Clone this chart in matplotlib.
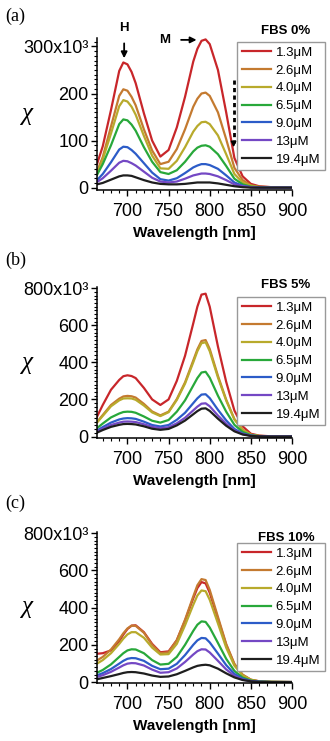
import matplotlib
matplotlib.use("Agg")
import matplotlib.pyplot as plt
from matplotlib.ticker import MultipleLocator

plt.rcParams["font.family"] = ["Liberation Sans", "DejaVu Sans"]

# wavelength grid (nm), values in units of 10^3
wavelength = [663, 670, 680, 690, 695, 700, 705, 710, 720, 730, 740, 750, 760,
              770, 780, 785, 790, 795, 800, 810, 820, 830, 840, 850, 860, 875, 900]

conc_labels = ["1.3\u03bcM", "2.6\u03bcM", "4.0\u03bcM", "6.5\u03bcM",
               "9.0\u03bcM", "13\u03bcM", "19.4\u03bcM"]
colors = ["#c8262a", "#c47a30", "#b8aa2c", "#28a83a", "#2c5cc8", "#7448c4", "#1e1e1e"]

# FBS 0%
fbs0_1p3 = [50, 88, 165, 248, 266, 262, 246, 222, 158, 100, 66, 80, 128,
            193, 268, 295, 312, 315, 305, 250, 160, 63, 24, 8, 3, 1, 0]
fbs0_2p6 = [34, 65, 130, 195, 209, 206, 193, 175, 124, 79, 50, 55, 82,
            124, 172, 189, 200, 202, 195, 160, 103, 42, 16, 5, 2, 1, 0]
fbs0_4p0 = [30, 60, 115, 173, 186, 183, 172, 155, 110, 68, 41, 40, 57,
            86, 119, 131, 139, 140, 135, 111, 71, 29, 11, 4, 1, 0, 0]
fbs0_6p5 = [27, 50, 90, 135, 145, 143, 134, 121, 86, 55, 33, 29, 37,
            55, 77, 85, 89, 90, 87, 71, 46, 19, 7, 2, 1, 0, 0]
fbs0_9p0 = [16, 29, 54, 81, 87, 86, 80, 72, 52, 32, 18, 15, 20,
            31, 43, 47, 50, 50, 48, 40, 26, 11, 4, 1, 0, 0, 0]
fbs0_13 = [12, 20, 36, 53, 57, 56, 52, 47, 34, 21, 13, 11, 13,
           19, 26, 28, 30, 30, 29, 24, 16, 7, 3, 1, 0, 0, 0]
fbs0_19p4 = [7, 10, 17, 24, 26, 26, 25, 22, 16, 11, 8, 7, 7,
             8, 10, 11, 11, 11, 11, 9, 6, 3, 1, 0, 0, 0, 0]

# FBS 5%
fbs5_1p3 = [107, 170, 252, 305, 325, 330, 326, 315, 262, 200, 170, 200, 300,
            435, 610, 700, 765, 770, 700, 485, 295, 140, 55, 15, 5, 1, 0]
fbs5_2p6 = [78, 116, 170, 204, 216, 219, 217, 210, 176, 135, 114, 134, 202,
            292, 410, 470, 515, 520, 472, 327, 199, 94, 37, 10, 3, 1, 0]
fbs5_4p0 = [75, 111, 163, 195, 205, 206, 205, 198, 167, 130, 110, 131, 197,
            285, 400, 460, 503, 508, 460, 318, 194, 92, 36, 10, 3, 1, 0]
fbs5_6p5 = [45, 70, 103, 124, 132, 134, 133, 128, 108, 85, 75, 89, 134,
            195, 275, 315, 345, 349, 317, 220, 134, 63, 25, 7, 2, 0, 0]
fbs5_9p0 = [32, 51, 75, 92, 97, 99, 98, 95, 80, 62, 54, 62, 90,
            128, 180, 206, 226, 228, 207, 144, 87, 41, 16, 5, 1, 0, 0]
fbs5_13 = [27, 42, 62, 75, 80, 81, 80, 78, 66, 52, 45, 50, 71,
           101, 141, 161, 177, 179, 163, 113, 69, 33, 13, 4, 1, 0, 0]
fbs5_19p4 = [21, 35, 52, 63, 67, 68, 67, 65, 55, 42, 36, 41, 60,
             86, 120, 137, 150, 152, 138, 96, 58, 28, 11, 3, 1, 0, 0]

# FBS 10%
fbs10_1p3 = [152, 155, 170, 220, 255, 285, 303, 305, 268, 205, 160, 165, 225,
             330, 450, 505, 537, 530, 480, 340, 200, 95, 38, 12, 4, 1, 0]
fbs10_2p6 = [116, 135, 175, 230, 262, 288, 303, 302, 265, 200, 155, 160, 225,
             335, 460, 520, 553, 548, 495, 350, 205, 98, 40, 13, 4, 1, 0]
fbs10_4p0 = [99, 118, 155, 205, 233, 256, 268, 268, 238, 185, 148, 150, 205,
             305, 415, 465, 492, 488, 442, 315, 185, 88, 36, 12, 4, 1, 0]
fbs10_6p5 = [50, 65, 95, 135, 155, 170, 176, 175, 155, 118, 94, 98, 135,
             200, 275, 308, 326, 323, 293, 210, 125, 60, 24, 8, 3, 1, 0]
fbs10_9p0 = [36, 48, 70, 99, 114, 125, 129, 128, 114, 87, 69, 72, 98,
             145, 200, 224, 237, 235, 213, 153, 91, 44, 18, 6, 2, 0, 0]
fbs10_13 = [27, 37, 55, 78, 90, 99, 102, 101, 89, 67, 50, 53, 73,
            108, 148, 166, 176, 175, 159, 114, 68, 33, 13, 4, 1, 0, 0]
fbs10_19p4 = [15, 22, 32, 43, 49, 53, 54, 53, 46, 35, 28, 30, 42,
              60, 79, 87, 91, 93, 90, 72, 47, 25, 11, 4, 1, 0, 0]

panels = [
    ("(a)", "FBS 0%", [fbs0_1p3, fbs0_2p6, fbs0_4p0, fbs0_6p5, fbs0_9p0, fbs0_13, fbs0_19p4],
     [0, 100, 200, 300], (-5, 318), 10),
    ("(b)", "FBS 5%", [fbs5_1p3, fbs5_2p6, fbs5_4p0, fbs5_6p5, fbs5_9p0, fbs5_13, fbs5_19p4],
     [0, 200, 400, 600, 800], (-8, 806), 20),
    ("(c)", "FBS 10%", [fbs10_1p3, fbs10_2p6, fbs10_4p0, fbs10_6p5, fbs10_9p0, fbs10_13, fbs10_19p4],
     [0, 200, 400, 600, 800], (-5, 806), 20),
]

W, H = 330, 741
fig = plt.figure(figsize=(W / 100, H / 100), dpi=100)

# pixel boxes: top, bottom of each axes
boxes = [(38, 190), (287, 438), (532, 683)]
ax_left, ax_right = 97, 292
legend_tops = [42, 297, 543]
title_y = [31, 285, 538]
label_y = [16, 260, 503]

for (tag, fbs, series, yt, ylim, minor), (top, bot), lt, ty, ly in zip(
        panels, boxes, legend_tops, title_y, label_y):
    ax = fig.add_axes([ax_left / W, 1 - bot / H, (ax_right - ax_left) / W, (bot - top) / H])
    for vals, c, lab in zip(series, colors, conc_labels):
        ax.plot(wavelength, [v * 1000 for v in vals], color=c, lw=1.6, label=lab)

    ax.set_xlim(663, 900)
    ax.set_ylim(ylim[0] * 1000, ylim[1] * 1000)
    ax.set_xticks([700, 750, 800, 850, 900])
    ax.xaxis.set_minor_locator(MultipleLocator(10))
    ylabels = [str(v) for v in yt]
    ylabels[-1] = f"{yt[-1]}x10\u00b3"
    ax.set_yticks([v * 1000 for v in yt], ylabels)
    ax.yaxis.set_minor_locator(MultipleLocator(minor * 1000))
    ax.tick_params(which="major", direction="out", length=4, width=1, labelsize=13, pad=2)
    ax.tick_params(axis="x", which="major", pad=5.5)
    ax.tick_params(which="minor", direction="out", length=2, width=0.8)
    for s in ("top", "right"):
        ax.spines[s].set_visible(False)
    for s in ("left", "bottom"):
        ax.spines[s].set_linewidth(1.1)

    ax.set_xlabel("Wavelength [nm]", fontsize=11, fontweight="bold", labelpad=4.5)
    fig.text(28 / W, 1 - (top + bot) / 2 / H, "\u03c7", fontsize=18, style="italic",
             family=["Liberation Serif", "DejaVu Serif"], ha="center", va="center")
    fig.text(5 / W, 1 - ly / H, tag, fontsize=13, family=["Liberation Serif", "DejaVu Serif"],
             ha="left", va="center")
    fig.text(286 / W, 1 - ty / H, fbs, fontsize=9.5, fontweight="bold", ha="center", va="center")

    ax.legend(loc="upper right", bbox_to_anchor=(325 / W, 1 - lt / H),
              bbox_transform=fig.transFigure, borderaxespad=0, fontsize=9.5,
              frameon=True, fancybox=False, edgecolor="#999999", framealpha=1,
              handlelength=2.2, handletextpad=0.35, labelspacing=0.42,
              borderpad=0.35)

    if tag == "(a)":
        ax.annotate("H", xy=(696, 275000), xytext=(696, 340000), ha="center", va="center",
                    fontsize=9.5, fontweight="bold", annotation_clip=False,
                    arrowprops=dict(arrowstyle="-|>", color="k", lw=1.3, mutation_scale=9,
                                    shrinkA=5, shrinkB=0))
        ax.annotate("M", xy=(784, 314000), xytext=(745, 314000), ha="center", va="center",
                    fontsize=9.5, fontweight="bold", annotation_clip=False,
                    arrowprops=dict(arrowstyle="-|>", color="k", lw=1.3, mutation_scale=9,
                                    shrinkA=6, shrinkB=0))
        ax.plot([829, 829], [228000, 95000], color="k", lw=2, ls=(0, (1.5, 1.2)),
                clip_on=False, zorder=5)
        ax.annotate("", xy=(829, 86000), xytext=(829, 96000), annotation_clip=False,
                    arrowprops=dict(arrowstyle="-|>", color="k", lw=1, mutation_scale=8,
                                    shrinkA=0, shrinkB=0), zorder=5)

fig.savefig("out.png", dpi=100)
